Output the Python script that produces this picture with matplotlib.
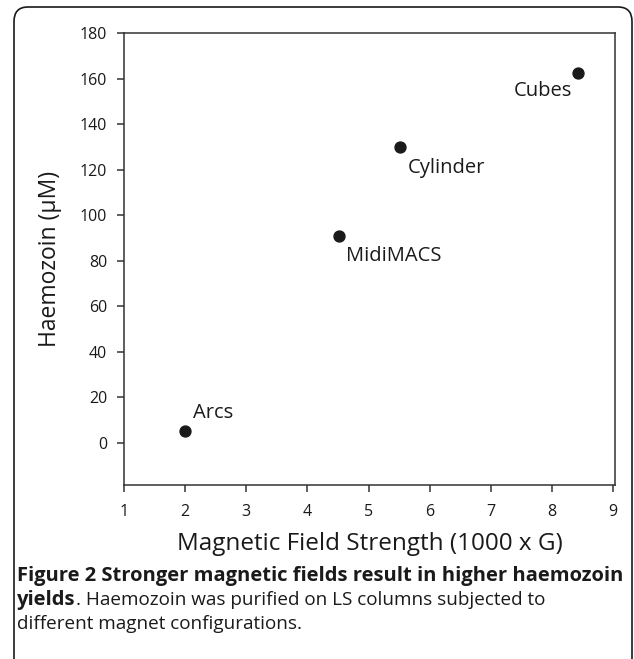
import matplotlib
matplotlib.use("Agg")
import matplotlib.pyplot as plt
from matplotlib.patches import FancyBboxPatch

plt.rcParams['font.family'] = ['Open Sans', 'DejaVu Sans']

names = ["Arcs", "MidiMACS", "Cylinder", "Cubes"]
field = [2.0, 4.51, 5.52, 8.42]
haemozoin = [5.0, 91.0, 130.0, 162.5]
label_offsets = [(6, 13), (5, -15), (5, -15), (-4, -13)]
label_ha = ["left", "left", "left", "right"]
xticks = [1, 2, 3, 4, 5, 6, 7, 8, 9]
yticks = [0, 20, 40, 60, 80, 100, 120, 140, 160, 180]

W, H = 634, 659
fig = plt.figure(figsize=(W / 100, H / 100), dpi=100)

# rounded frame
box = FancyBboxPatch((14 / W, -20 / H), (632 - 14) / W, (659 - 7 + 20) / H,
                     boxstyle="round,pad=0,rounding_size=0.022",
                     transform=fig.transFigure, fill=False,
                     edgecolor="#1a1a1a", linewidth=1.2)
fig.patches.append(box)

ax = fig.add_axes([124 / W, 1 - 485 / H, (615 - 124) / W, (485 - 33) / H])
ax.scatter(field, haemozoin, s=62, color="#1a1a1a", zorder=3)
for n, x, y, off, ha in zip(names, field, haemozoin, label_offsets, label_ha):
    ax.annotate(n, (x, y), xytext=off, textcoords="offset points",
                ha=ha, va="center", fontsize=14.5, color="#1a1a1a")

ax.set_xlim(1, 9.03)
ax.set_ylim(-18.5, 180)
ax.set_xticks(xticks)
ax.set_yticks(yticks)
for s in ax.spines.values():
    s.set_color("#333333")
    s.set_linewidth(1.1)
ax.tick_params(direction="out", length=5, width=1.1, color="#333333",
               labelsize=11.5, labelcolor="#1a1a1a")
ax.tick_params(axis="x", pad=9)
ax.tick_params(axis="y", pad=7)
ax.set_xlabel("Magnetic Field Strength (1000 x G)", fontsize=17.5, color="#1a1a1a", labelpad=8)
ax.set_ylabel("Haemozoin (\u00b5M)", fontsize=16.5, color="#1a1a1a", labelpad=13)

# caption
fig.canvas.draw()
r = fig.canvas.get_renderer()
x0 = 17 / W
first = fig.text(x0, 1 - 576 / H, "Figure 2 Stronger magnetic fields result in higher haemozoin",
                 fontsize=12.5, fontweight="bold", va="center", ha="left", color="#1a1a1a")
w = first.get_window_extent(renderer=r).width
cap_bold = 12.5 * (624 - 17) / w
first.set_fontsize(cap_bold)
third = fig.text(x0, 1 - 624 / H, "different magnet configurations.", fontsize=12.5,
                 va="center", ha="left", color="#1a1a1a")
w3 = third.get_window_extent(renderer=r).width
cap_reg = 12.5 * (303 - 17) / w3
third.set_fontsize(cap_reg)
t = fig.text(x0, 1 - 600 / H, "yields", fontsize=cap_bold, fontweight="bold",
             va="center", ha="left", color="#1a1a1a")
bb = t.get_window_extent(renderer=r)
fig.text(bb.x1 / W, 1 - 600 / H, ". Haemozoin was purified on LS columns subjected to",
         fontsize=cap_reg, va="center", ha="left", color="#1a1a1a")

fig.savefig("out.png", dpi=100)
